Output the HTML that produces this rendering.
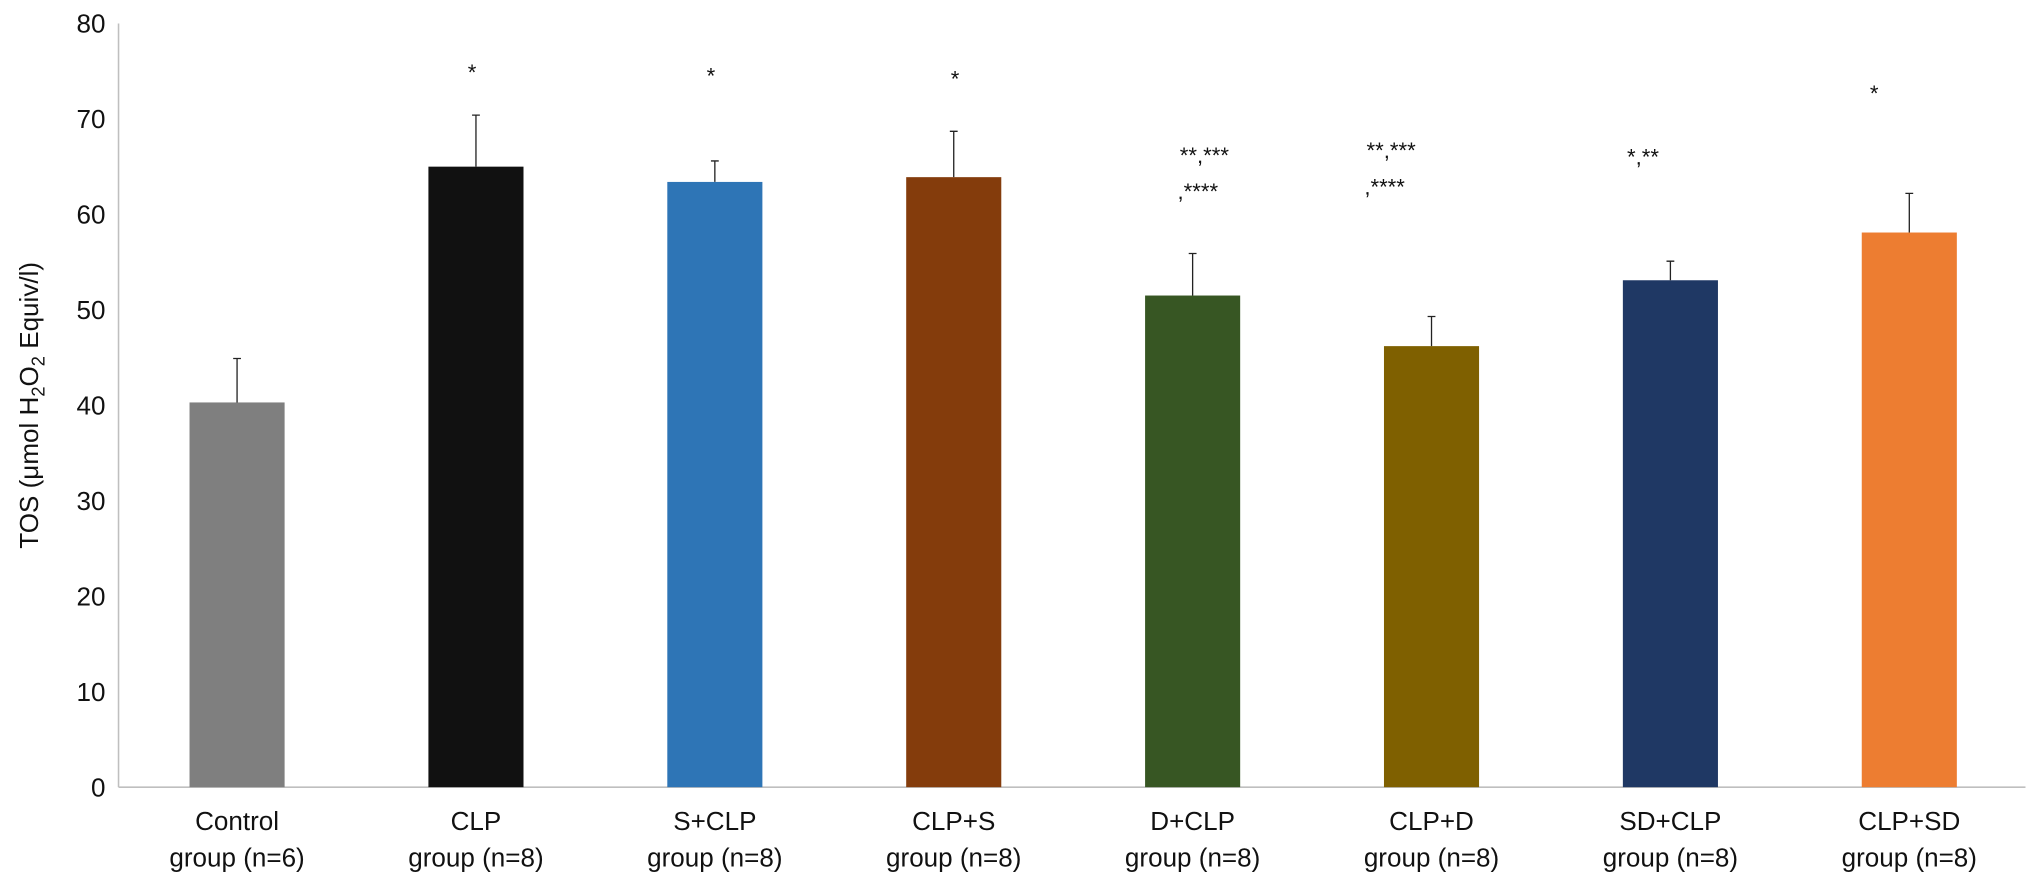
<!DOCTYPE html>
<html><head><meta charset="utf-8"><style>
html,body{margin:0;padding:0;background:#fff;}
svg{display:block;font-family:"Liberation Sans",Arial,sans-serif;}
</style></head><body>
<svg id="chart" width="2032" height="881" viewBox="0 0 1560 676" preserveAspectRatio="none" xmlns="http://www.w3.org/2000/svg">
<g id="axes"></g><g id="bars"></g><g id="labels"></g>
</svg>
<script>
const categories = ["Control", "CLP", "S+CLP", "CLP+S", "D+CLP", "CLP+D", "SD+CLP", "CLP+SD"];
const groupSizes = ["group (n=6)", "group (n=8)", "group (n=8)", "group (n=8)", "group (n=8)", "group (n=8)", "group (n=8)", "group (n=8)"];
const values = [40.3, 65.0, 63.4, 63.9, 51.5, 46.2, 53.1, 58.1];
const errors = [4.6, 5.4, 2.2, 4.8, 4.4, 3.1, 2.0, 4.1];
const colors = ["#7f7f7f", "#111111", "#2e75b6", "#843c0c", "#375623", "#7f6000", "#1f3864", "#ed7d31"];
const sigLine1 = ["", "*", "*", "*", "**,***", "**,***", "*,**", "*"];
const sigLine2 = ["", "", "", "", ",****", ",****", "", ""];
const sigLevel1 = [0, 74.1, 73.7, 73.4, 65.4, 65.9, 65.2, 71.9];
const sigLevel2 = [0, 0, 0, 0, 61.6, 62.1, 0, 0];
const sigShift = [0, -3, -3, 1, 9, -31, -21, -27];
const yTicks = [0, 10, 20, 30, 40, 50, 60, 70, 80];

const NS = "http://www.w3.org/2000/svg";
const x0 = 91, x1 = 1555, yBase = 604, yTop = 18;
const y = v => yBase - (v / 80) * (yBase - yTop);
const step = 183.4, first = 182;
const xc = i => first + i * step;
const bw = 73;
function mk(tag, attrs, parent, text) {
  const e = document.createElementNS(NS, tag);
  for (const k in attrs) e.setAttribute(k, attrs[k]);
  if (text !== undefined) e.textContent = text;
  parent.appendChild(e);
  return e;
}
const axes = document.getElementById("axes");
const bars = document.getElementById("bars");
const labels = document.getElementById("labels");

let el = mk("line", {x1: x0, y1: yTop, x2: x0, y2: yBase, stroke: "#bfbfbf", "stroke-width": 1.2}, axes);


el = mk("line", {x1: x0, y1: yBase, x2: x1, y2: yBase, stroke: "#bfbfbf", "stroke-width": 1.2}, axes);



yTicks.forEach(t => {
  const tx = mk("text", {x: 81, y: y(t) + 7, "text-anchor": "end", "font-size": 20, fill: "#111"}, axes, String(t));
  
  
});

const title = mk("text", {transform: "translate(29,311) rotate(-90)", "text-anchor": "middle", "font-size": 20, fill: "#111"}, axes);


title.innerHTML = 'TOS (μmol H<tspan font-size="14" dy="5">2</tspan><tspan dy="-5">O</tspan><tspan font-size="14" dy="5">2</tspan><tspan dy="-5"> Equiv/l)</tspan>';

categories.forEach((c, i) => {
  const cx = xc(i);
  const r = mk("rect", {x: cx - bw / 2, y: y(values[i]), width: bw, height: yBase - y(values[i]), fill: colors[i]}, bars);
  
  
  const top = y(values[i] + errors[i]);
  const eb = mk("path", {d: `M${cx},${y(values[i])}V${top}M${cx - 3},${top}H${cx + 3}`, stroke: "#222", "stroke-width": 1, fill: "none"}, bars);
  
  

  const l1 = mk("text", {x: cx, y: 637, "text-anchor": "middle", "font-size": 20, fill: "#111"}, labels, c);
  
  
  const l2 = mk("text", {x: cx, y: 665, "text-anchor": "middle", "font-size": 20, fill: "#111"}, labels, groupSizes[i]);
  
  

  if (sigLine1[i]) {
    const s1 = mk("text", {x: cx + sigShift[i], y: y(sigLevel1[i]), "text-anchor": "middle", "font-size": 17, fill: "#111"}, labels, sigLine1[i]);
    
    
    if (sigLine2[i]) {
      const s2 = mk("text", {x: cx + sigShift[i] - 5, y: y(sigLevel2[i]), "text-anchor": "middle", "font-size": 17, fill: "#111"}, labels, sigLine2[i]);
      
      
    }
  }
});
</script>
</body></html>
